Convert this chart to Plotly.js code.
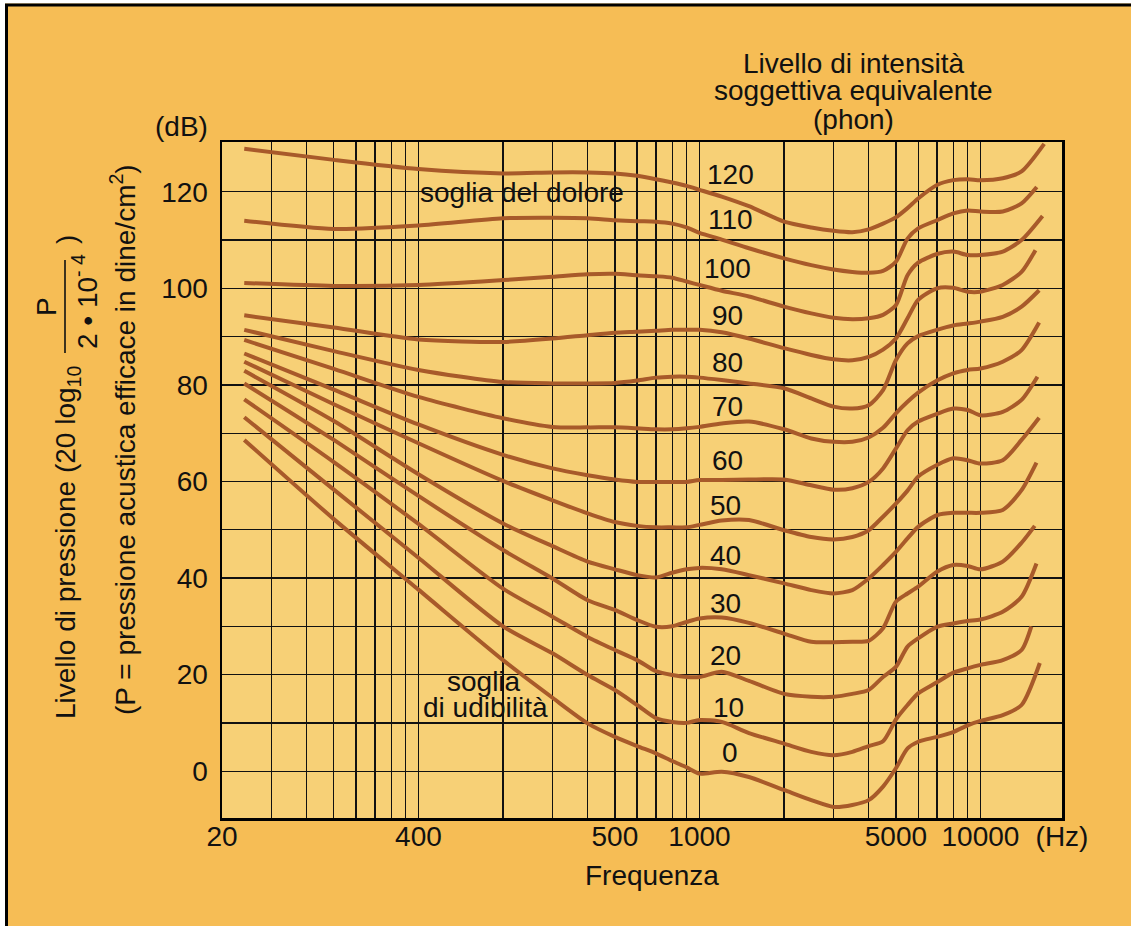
<!DOCTYPE html>
<html>
<head>
<meta charset="utf-8">
<script src="https://cdn.plot.ly/plotly-3.0.1.min.js"></script>
<style>html,body{margin:0;padding:0;background:#fff;}#chart{width:1131px;height:926px;}</style>
</head>
<body>
<div id="chart"></div>
<script>
// Frequencies (Hz) at which the curves were read
const hz = [24, 50, 100, 200, 300, 400, 500, 600, 700, 800, 900, 1000, 1200, 1500,
            2000, 2500, 3000, 3500, 4000, 4500, 5000, 5500, 6000, 7000, 8000, 9000, 10000, 12000, 14000];

// Sound pressure level (dB) of each equal-loudness curve (phon)
const phon0   = [68.6, 52.2, 37.6, 23.0, 15.2, 9.9, 7.1, 5.2, 3.7, 2.1, 0.8, -0.5, -0.1, -1.2, -3.9, -6.0, -7.4, -7.0, -6.0, -3.2, 0.6, 4.7, 6.1, 7.1, 8.1, 9.5, 10.4, 11.6, 13.7];
const phon10  = [73.3, 58.3, 44.2, 30.0, 24.4, 19.9, 16.8, 13.7, 11.0, 10.2, 10.0, 10.6, 10.2, 7.9, 5.7, 4.0, 3.3, 4.0, 5.2, 6.2, 10.7, 13.7, 16.1, 18.4, 20.4, 21.3, 22.0, 23.0, 25.1];
const phon20  = [77.0, 64.0, 51.2, 37.8, 32.0, 27.8, 25.1, 23.0, 20.7, 19.9, 19.5, 19.5, 20.6, 18.7, 16.0, 15.4, 15.4, 16.0, 16.8, 19.5, 21.6, 25.8, 27.5, 29.9, 30.6, 31.1, 31.4, 33.0, 36.1];
const phon30  = [80.3, 68.6, 57.0, 45.8, 39.9, 35.4, 33.4, 31.3, 29.9, 30.0, 30.9, 31.6, 31.8, 30.7, 28.5, 26.8, 26.7, 26.8, 27.0, 29.6, 35.1, 36.8, 38.2, 41.3, 42.7, 42.5, 41.8, 43.4, 47.3];
const phon40  = [82.9, 72.5, 61.5, 51.3, 46.6, 43.4, 41.8, 40.6, 40.1, 41.1, 41.8, 42.1, 41.8, 40.6, 38.9, 37.5, 36.8, 37.5, 39.9, 42.7, 45.4, 48.2, 50.6, 53.0, 53.5, 53.5, 53.5, 54.1, 58.2];
const phon50  = [84.8, 76.0, 67.9, 60.1, 56.1, 53.4, 51.6, 50.8, 50.5, 50.5, 50.5, 51.0, 51.9, 52.0, 49.9, 48.5, 48.0, 48.5, 49.9, 52.7, 55.4, 58.1, 61.0, 63.4, 64.8, 64.4, 63.7, 64.4, 68.6];
const phon60  = [86.5, 79.0, 71.8, 65.5, 62.7, 61.3, 60.4, 59.9, 59.9, 59.9, 59.9, 60.3, 60.3, 60.4, 60.4, 59.2, 58.3, 58.6, 59.9, 62.7, 66.8, 70.6, 72.4, 74.0, 75.1, 74.8, 73.7, 74.4, 76.9];
const phon70  = [89.3, 83.3, 77.5, 73.1, 71.3, 71.2, 71.2, 71.0, 70.8, 70.8, 71.0, 71.3, 72.0, 72.4, 70.8, 68.9, 68.2, 68.2, 69.1, 71.1, 74.1, 76.5, 78.4, 80.9, 82.4, 83.1, 83.4, 84.8, 87.2];
const phon80  = [91.4, 87.0, 83.1, 80.6, 80.3, 80.3, 80.4, 80.9, 81.5, 81.7, 81.7, 81.5, 81.0, 80.3, 79.3, 77.2, 75.5, 75.1, 75.8, 78.9, 85.1, 88.6, 90.1, 91.4, 92.3, 92.7, 93.1, 94.1, 96.2];
const phon90  = [94.4, 91.9, 89.4, 88.9, 89.6, 90.3, 90.8, 91.0, 91.2, 91.4, 91.4, 91.4, 90.9, 89.6, 87.6, 86.2, 85.3, 85.1, 85.8, 87.3, 89.6, 93.8, 97.6, 100.0, 100.1, 99.3, 99.3, 100.7, 103.4];
const phon100 = [101.1, 100.5, 100.7, 101.7, 102.4, 102.9, 103.0, 102.7, 102.5, 102.2, 101.4, 100.7, 99.5, 98.3, 96.2, 94.8, 93.9, 93.6, 93.8, 94.5, 96.5, 102.7, 105.3, 107.1, 107.6, 106.9, 106.9, 107.6, 110.0];
const phon110 = [114.0, 112.3, 113.0, 114.5, 114.6, 114.5, 114.1, 113.9, 113.8, 113.4, 112.6, 111.5, 110.1, 108.3, 106.2, 104.8, 103.9, 103.4, 103.2, 103.6, 105.5, 110.3, 112.4, 114.1, 115.5, 116.1, 115.9, 115.9, 117.6];
const phon120 = [128.9, 126.6, 124.7, 123.8, 124.0, 124.0, 123.8, 123.3, 122.6, 121.9, 121.2, 120.4, 119.0, 117.0, 113.8, 112.6, 111.9, 111.6, 112.2, 113.4, 114.7, 116.6, 118.6, 121.4, 122.4, 122.6, 122.4, 122.8, 124.2];

// Last point of each curve (phon 0 ... 120)
const levels = [0, 10, 20, 30, 40, 50, 60, 70, 80, 90, 100, 110, 120];
const endHz  = [16260, 15170, 15820, 15600, 15820, 16170, 15950, 16170, 16170, 15690, 16630, 15860, 16850];
const endDb  = [22.4, 30.0, 43.0, 50.8, 63.9, 73.2, 81.7, 92.9, 99.6, 107.9, 115.0, 121.0, 129.9];

// Axes: labelled ticks, plus the unlabelled grid lines
const xTickHz   = [20, 100, 500, 1000, 5000, 10000, 19500];
const xTickText = ['20', '400', '500', '1000', '5000', '10000', '(Hz)'];
const xGridHz   = [30, 40, 50, 60, 70, 80, 90, 200, 300, 400, 600, 700, 800, 900,
                   2000, 3000, 4000, 6000, 7000, 8000, 9000];
const yTickDb   = [0, 20, 40, 60, 80, 100, 120];
const yGridDb   = [10, 30, 50, 70, 90, 110];

const series = [phon0, phon10, phon20, phon30, phon40, phon50, phon60, phon70, phon80, phon90, phon100, phon110, phon120];

const CURVE = '#A85A2A', INK = '#111111', PAPER = '#F6BD55', PLOT = '#F7D076';
const FONT = 'Liberation Sans, Arial, Helvetica, sans-serif';

const traces = series.map((ys, i) => ({
  type: 'scatter', mode: 'lines',
  x: hz.concat([endHz[i]]), y: ys.concat([endDb[i]]),
  name: levels[i] + ' phon',
  line: {color: CURVE, width: 4, shape: 'spline', smoothing: 0.7},
  hoverinfo: 'skip', showlegend: false
}));

// pixel -> paper helpers for text placement (plot area 222..1062 x 142..818)
const PX = v => (v - 222) / 840;
const PY = v => (818 - v) / 676;

function txt(text, x, y, opts) {
  return Object.assign({text: text, x: PX(x), y: PY(y), xref: 'paper', yref: 'paper',
    showarrow: false, xanchor: 'center', yanchor: 'middle',
    font: {family: FONT, size: 28, color: INK}}, opts || {});
}

const labelPos = [[730,752],[728,707],[725,655],[725,603],[725,555],[725,505],[727,460],[727,407],[727,362],[727,315],[727,268],[730,219],[730,175]];

const annotations = [
  txt('Livello di intensità', 853, 64),
  txt('soggettiva equivalente', 853, 90),
  txt('(phon)', 853, 120),
  txt('(dB)', 181, 127),
  txt('Frequenza', 652, 875),
  txt('soglia del dolore', 522, 192),
  txt('soglia', 484, 681),
  txt('di udibilità', 485, 707),
  txt('Livello di pressione (20 log<sub>10</sub>', 67, 543, {textangle: -90}),
  txt('P', 46, 307, {textangle: -90}),
  txt('2 • 10<sup>- 4</sup>', 85, 302, {textangle: -90}),
  txt(')', 67, 240, {textangle: -90}),
  txt('(P = pressione acustica efficace in dine/cm<sup>2</sup>)', 123, 440, {textangle: -90})
].concat(levels.map((lv, i) => txt(String(lv), labelPos[i][0], labelPos[i][1])));

const shapes = [
  // outer frame (white margin + black edge at top and left)
  {type: 'rect', xref: 'paper', yref: 'paper', x0: PX(0), x1: PX(1131), y0: PY(0), y1: PY(3.5), fillcolor: '#fff', line: {width: 0}, layer: 'above'},
  {type: 'rect', xref: 'paper', yref: 'paper', x0: PX(0), x1: PX(5), y0: PY(0), y1: PY(926), fillcolor: '#fff', line: {width: 0}, layer: 'above'},
  {type: 'line', xref: 'paper', yref: 'paper', x0: PX(5), x1: PX(1131), y0: PY(5), y1: PY(5), line: {color: '#000', width: 3}, layer: 'above'},
  {type: 'line', xref: 'paper', yref: 'paper', x0: PX(6.5), x1: PX(6.5), y0: PY(4), y1: PY(926), line: {color: '#000', width: 3}, layer: 'above'},
  // fraction bar of the y title
  {type: 'line', xref: 'paper', yref: 'paper', x0: PX(65), x1: PX(65), y0: PY(353), y1: PY(260), line: {color: INK, width: 1.6}, layer: 'above'},
  // gaps in the grid behind the text labels
  {type: 'rect', xref: 'paper', yref: 'paper', x0: PX(417), x1: PX(628), y0: PY(210), y1: PY(180), fillcolor: PLOT, line: {width: 0}, layer: 'between'},
  {type: 'rect', xref: 'paper', yref: 'paper', x0: PX(415), x1: PX(552), y0: PY(723), y1: PY(664), fillcolor: PLOT, line: {width: 0}, layer: 'between'}
];

const gridStyle = {showgrid: true, gridcolor: INK, gridwidth: 1.3};

const layout = {
  width: 1131, height: 926,
  margin: {l: 222, r: 69, t: 142, b: 108, pad: 0},
  paper_bgcolor: PAPER, plot_bgcolor: PLOT,
  font: {family: FONT, size: 28, color: INK},
  showlegend: false,
  xaxis: Object.assign({
    type: 'log', range: [Math.log10(20), Math.log10(19500)],
    tickmode: 'array', tickvals: xTickHz, ticktext: xTickText,
    ticks: '', ticklabelstandoff: -8,
    minor: Object.assign({tickmode: 'array', tickvals: xGridHz, ticks: ''}, gridStyle),
    showline: true, mirror: true, linecolor: '#000', linewidth: 2.5,
    zeroline: false, fixedrange: true,
    tickfont: {family: FONT, size: 28, color: INK}
  }, gridStyle),
  yaxis: Object.assign({
    range: [-9.7, 130.3],
    tickmode: 'array', tickvals: yTickDb,
    ticks: '', ticklabelstandoff: 6,
    minor: Object.assign({tickmode: 'array', tickvals: yGridDb, ticks: ''}, gridStyle),
    showline: true, mirror: true, linecolor: '#000', linewidth: 2.5,
    zeroline: false, fixedrange: true,
    tickfont: {family: FONT, size: 28, color: INK}
  }, gridStyle),
  annotations: annotations,
  shapes: shapes
};

Plotly.newPlot('chart', traces, layout, {displayModeBar: false, staticPlot: true});
</script>
</body>
</html>
